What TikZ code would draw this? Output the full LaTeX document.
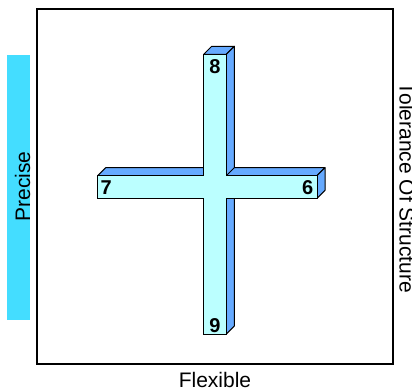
\documentclass[tikz,border=0pt]{standalone}
\usepackage{fontspec}
\setmainfont{Liberation Sans}
\definecolor{barcyan}{HTML}{44DDFF}
\definecolor{facecyan}{HTML}{BBFFFF}
\definecolor{sideblue}{HTML}{66AAFF}
\begin{document}
\begin{tikzpicture}[x=1pt,y=-1pt,line width=1pt,
  side/.style={fill=sideblue,draw=black,line join=round},
  face/.style={fill=facecyan,draw=black},
  num/.style={font=\fontsize{20}{20}\selectfont\bfseries,anchor=base,inner sep=0pt},
  axis/.style={font=\fontsize{21}{21}\selectfont,anchor=base,inner sep=0pt}]
 \useasboundingbox (0,0) rectangle (412,390);
 \fill[barcyan] (7,55) rectangle (30,320);
 \draw[line width=2pt] (37,9) rectangle (393,364);
 % horizontal arm: top and end
 \draw[side] (97.7,175.7)--(105.7,167.7)--(325,167.7)--(317,175.7)--cycle;
 \draw[side] (317,175.7)--(325,167.7)--(325,190.3)--(317,198.3)--cycle;
 % vertical arm: top and side
 \draw[side] (203.7,54.3)--(211.7,46.3)--(234.3,46.3)--(226.3,54.3)--cycle;
 \draw[side] (226.3,54.3)--(234.3,46.3)--(234.3,167.7)--(226.3,175.7)--cycle;
 \draw[side] (226.3,198.3)--(234.3,198.3)--(234.3,326)--(226.3,334)--cycle;
 % front of the cross
 \draw[face] (203.7,54.3)--(226.3,54.3)--(226.3,175.7)--(317,175.7)--(317,198.3)
   --(226.3,198.3)--(226.3,334)--(203.7,334)--(203.7,198.3)--(97.7,198.3)
   --(97.7,175.7)--(203.7,175.7)--cycle;
 \node[num] (n8) at (215,73.3) {8};
 \node[num] (n9) at (215,332.3) {9};
 \node[num] (n7) at (106.3,195) {7};
 \node[num] (n6) at (307.8,195) {6};
 \node[axis,rotate=90] (precise) at (30,186.5) {Precise};
 \node[axis,rotate=-90] (tol) at (399.5,188) {Tolerance Of Structure};
 \node[axis] (flex) at (215,387) {Flexible};
\end{tikzpicture}
\end{document}
